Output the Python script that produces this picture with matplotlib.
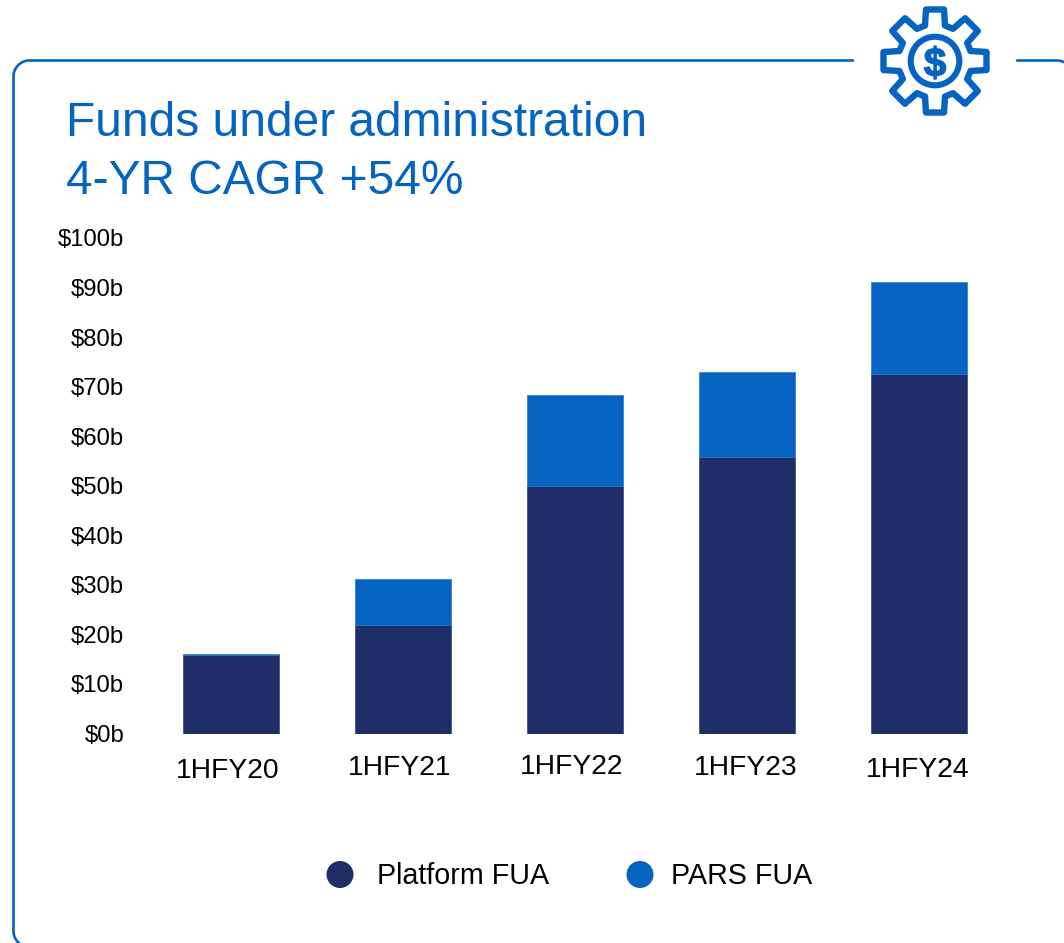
import numpy as np
import matplotlib
matplotlib.use("Agg")
import matplotlib.pyplot as plt
import matplotlib.patheffects as pe
from matplotlib.patches import Polygon, Circle
from matplotlib.transforms import ScaledTranslation

plt.rcParams["font.family"] = ["Liberation Sans", "DejaVu Sans"]

periods = ["1HFY20", "1HFY21", "1HFY22", "1HFY23", "1HFY24"]
platform_fua = [15.8, 21.9, 50.0, 55.9, 72.5]
pars_fua = [0.3, 9.3, 18.3, 17.1, 18.7]
y_ticks = [0, 10, 20, 30, 40, 50, 60, 70, 80, 90, 100]

BLUE = "#0563C1"
NAVY = "#1F2E69"
W, H = 1064, 943


def arc(cx, cy, r, a1, a2):
    # angles in degrees, y axis points down
    a = np.radians(np.linspace(a1, a2, 30))
    return cx + r * np.cos(a), cy + r * np.sin(a)


fig = plt.figure(figsize=(W / 100, H / 100), dpi=100)

# background layer in pixel coords, for the frame, icon and legend
bg = fig.add_axes([0, 0, 1, 1])
bg.set_xlim(0, W)
bg.set_ylim(H, 0)
bg.axis("off")

top, left, r = 60.5, 13.5, 16
xa, ya = arc(left + r, top + r, r, 270, 180)
xb, yb = arc(left + r, 931, r, 180, 90)
bg.plot(np.r_[853, xa, xb], np.r_[top, ya, yb], color=BLUE, lw=1.9, solid_capstyle="round")
xc, yc = arc(1057, top + r, r, 270, 360)
bg.plot(np.r_[1017, xc], np.r_[top, yc], color=BLUE, lw=1.9, solid_capstyle="round")

# gear icon
gx, gy = 935, 61
pts = []
for a in np.arange(8) * np.pi / 4 - np.pi / 2:
    u = np.array([np.cos(a), np.sin(a)])
    v = np.array([-u[1], u[0]])
    pts.append(u * 35.5 - v * 10)
    pts.append(u * 51.5 - v * 9)
    pts.append(u * 51.5 + v * 9)
    pts.append(u * 35.5 + v * 10)
pts = np.array(pts) + [gx, gy]
bg.add_patch(Polygon(pts, closed=True, fill=False, ec=BLUE, lw=4.6, joinstyle="round"))
bg.add_patch(Circle((gx, gy), 24.3, fill=False, ec=BLUE, lw=4.4))
dollar = bg.text(gx, gy, "\\$", color=BLUE, fontsize=29, fontweight="bold", ha="center", va="center_baseline")
dollar.set_path_effects([pe.withStroke(linewidth=1.0, foreground=BLUE)])

# title
bg.text(66, 123, "Funds under administration", color=BLUE, fontsize=34.5, ha="left", va="center")
bg.text(66, 181, "4-YR CAGR +54%", color=BLUE, fontsize=34.5, ha="left", va="center")

# chart
ax = fig.add_axes([145 / W, 1 - 733.5 / H, 860 / W, 495.5 / H])
ax.patch.set_alpha(0)
x = np.arange(len(periods))
ax.bar(x, platform_fua, width=0.555, color=NAVY, ec="#34437C", lw=0.5, label="Platform FUA")
ax.bar(x, pars_fua, width=0.555, bottom=platform_fua, color=BLUE, ec="#2A78C8", lw=0.5, label="PARS FUA")
ax.set_xlim(-0.5, len(periods) - 0.5)
ax.set_ylim(0, 100)
ax.set_yticks(y_ticks)
ax.set_yticklabels(["\\$%db" % v for v in y_ticks], fontsize=17.2, color="black")
ax.set_xticks(x)
ax.set_xticklabels(periods, fontsize=20.3, color="black")
ax.tick_params(axis="y", length=0, pad=15)
ax.tick_params(axis="x", length=0, pad=14)
for s in ax.spines.values():
    s.set_visible(False)

# the category labels sit slightly unevenly in the original
for label, dx, dy in zip(ax.get_xticklabels(), [-3, -3.5, -3, -1, -1], [-5, -2, -1, -2, -4]):
    label.set_transform(label.get_transform() + ScaledTranslation(dx / 100, dy / 100, fig.dpi_scale_trans))

# legend
for px, tx, name, c in [(340, 377, "Platform FUA", NAVY), (640, 671, "PARS FUA", BLUE)]:
    bg.add_patch(Circle((px, 874.5), 13.5, fc=c, ec="none"))
    bg.text(tx, 876, name, fontsize=20.6, color="black", ha="left", va="center")

fig.savefig("out.png", dpi=100)
